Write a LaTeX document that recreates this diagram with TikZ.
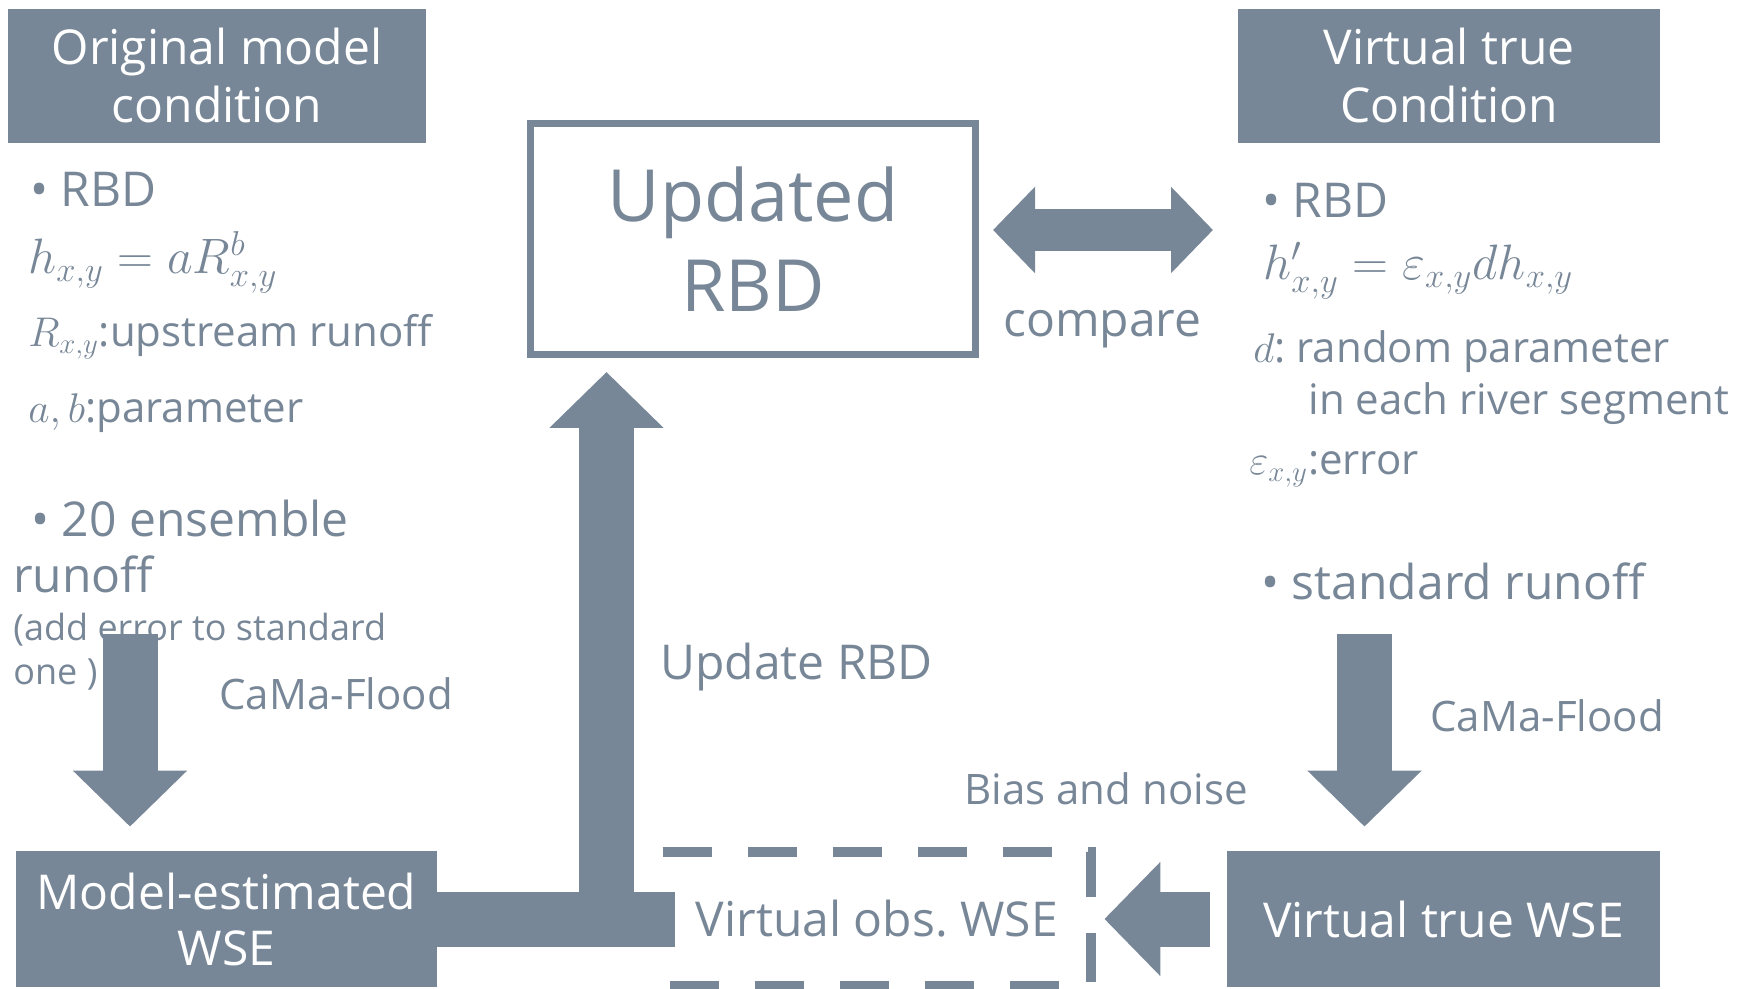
\documentclass[tikz,border=0pt]{standalone}
\usepackage{fontspec}
\setmainfont{Open Sans}
\usetikzlibrary{arrows.meta}
\definecolor{slate}{HTML}{788797}
\frenchspacing

\begin{document}
\begin{tikzpicture}[x=0.5pt,y=-0.5pt,
    darkbox/.style={fill=slate,text=white,align=center,inner sep=0pt,
      font=\fontsize{24}{29}\selectfont},
    lbl/.style={anchor=base west,inner sep=0pt,text=slate},
    big/.style={font=\fontsize{24}{28}\selectfont},
    mid/.style={font=\fontsize{21}{25}\selectfont},
    small/.style={font=\fontsize{18}{22}\selectfont},
    flow/.style={draw=slate,line width=27.5pt,-{Triangle[width=55.5pt,length=28pt]}},
  ]
  \useasboundingbox (0,0) rectangle (1753,989);

  % boxes
  \node[darkbox,minimum width=209pt,minimum height=67pt] (orig) at (217,76) {Original model\\condition};
  \node[darkbox,minimum width=211pt,minimum height=67pt] (virt) at (1449,76) {Virtual true\\Condition};
  \node[draw=slate,line width=3.5pt,text=slate,align=center,inner sep=0pt,
    minimum width=222.5pt,minimum height=115.5pt,
    font=\fontsize{36}{45}\selectfont] (upd) at (753,239) {Updated\\RBD};
  \node[darkbox,font=\fontsize{24}{28}\selectfont,minimum width=210.5pt,minimum height=68pt] (mest) at (226.5,919) {Model-estimated\\WSE};
  \node[darkbox,minimum width=216.5pt,minimum height=68pt] (vtrue) at (1443.5,919) {Virtual true WSE};
  \node[text=slate,big,inner sep=0pt,minimum width=214pt,minimum height=66.5pt] (vobs) at (877,919) {Virtual obs. WSE};

  % left column
  \node[lbl,big] (lrbd) at (30,207) {• RBD};
  \node[lbl,big] (lform) at (28,274) {$h_{x,y} = aR^{b}_{x,y}$};
  \node[lbl,mid] (lrx) at (28,347) {$R_{x,y}$:upstream runoff};
  \node[lbl,mid] (lab) at (28,423) {$a,b$:parameter};
  \node[lbl,big] (lens) at (31,537) {• 20 ensemble};
  \node[lbl,big] (lrun) at (13,593) {runoff};
  \node[lbl,small] (ladd) at (13,641) {(add error to standard};
  \node[lbl,small] (lone) at (13,685) {one )};
  \node[lbl,mid] (lcama) at (219,710) {CaMa-Flood};

  % middle
  \node[lbl,big] (updlbl) at (660,680) {Update RBD};
  \node[lbl,big] (cmplbl) at (1003,337) {compare};
  \node[lbl,mid] (noise) at (964,805) {Bias and noise};

  % right column
  \node[lbl,big] (rrbd) at (1262,218) {• RBD};
  \node[lbl,big] (rform) at (1263,280) {$h'_{x,y} = \varepsilon_{x,y}dh_{x,y}$};
  \node[lbl,mid] (rd) at (1253,363) {$d$: random parameter};
  \node[lbl,mid] (rin) at (1308,415) {in each river segment};
  \node[lbl,mid] (reps) at (1249,475) {$\varepsilon_{x,y}$:error};
  \node[lbl,big] (rstd) at (1261,600) {• standard runoff};
  \node[lbl,mid] (rcama) at (1430,732) {CaMa-Flood};

  % arrows
  \coordinate (ltop) at (130,634);
  \coordinate (rtop) at (1364.5,634);
  \coordinate (upfoot) at (606.5,919);
  \coordinate (cmpR) at (1213,230);
  \draw[flow,shorten >=12pt] (ltop) -- (ltop |- mest.north);
  \draw[flow,shorten >=12pt] (rtop) -- (rtop |- vtrue.north);
  \draw[flow,shorten <=8.5pt,shorten >=6.5pt] (vtrue.west) -- (vobs.east);
  \draw[slate,line width=27.5pt] (mest.east) -- ([xshift=6pt]vobs.west);
  \draw[flow,shorten >=7pt] (upfoot) -- (upfoot |- upd.south);
  \draw[slate,line width=21pt,{Triangle[width=42pt,length=21pt]}-{Triangle[width=42pt,length=21pt]},
    shorten <=7pt] (cmpR -| upd.east) -- (cmpR);
  \draw[slate,line width=5pt,dash pattern=on 24.5pt off 18pt]
    (vobs.north west) -- (vobs.north east) -- (vobs.south east) -- (vobs.south west);
\end{tikzpicture}
\end{document}
